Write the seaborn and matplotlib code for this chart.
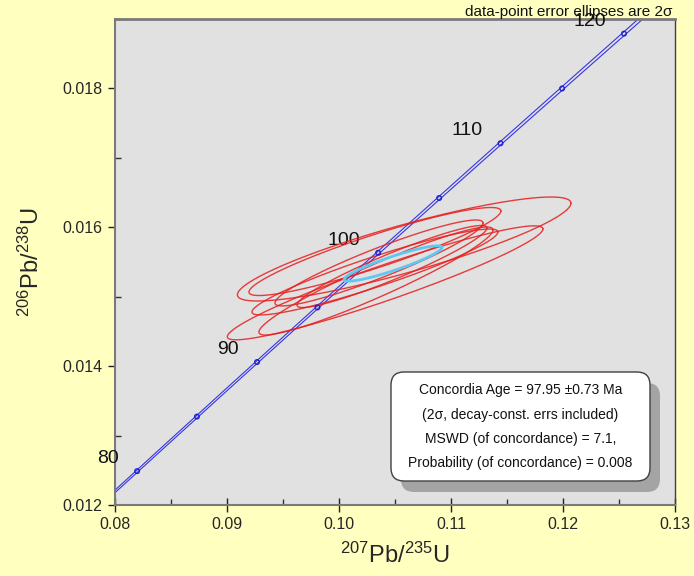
import numpy as np
import pandas as pd
import matplotlib
matplotlib.use("Agg")
import matplotlib.pyplot as plt
import seaborn as sns
from matplotlib.patches import FancyBboxPatch
from matplotlib.ticker import MultipleLocator, FormatStrFormatter

# decay constants (1/yr) and relative 2-sigma error used for the concordia band
lambda238 = 1.55125e-10
lambda235 = 9.8485e-10
lambda235_err = 0.0015

# ages (Ma) marked on concordia, and the ones that get a label
ages_marked = [80, 85, 90, 95, 100, 105, 110, 115, 120, 125]
ages_labelled = [80, 90, 100, 110, 120]

# data-point ellipses: 207Pb/235U, 2s, 206Pb/238U, 2s, error correlation
ell_x = [0.10582, 0.10412, 0.10321, 0.10321, 0.10330, 0.10357, 0.10473]
ell_sx = [0.01489, 0.01409, 0.01125, 0.01098, 0.01045, 0.00929, 0.00848]
ell_y = [0.015687, 0.015200, 0.015651, 0.015356, 0.015226, 0.015486, 0.015435]
ell_sy = [0.000749, 0.000821, 0.000634, 0.000619, 0.000778, 0.000619, 0.000591]
ell_rho = [0.88, 0.945, 0.92, 0.93, 0.945, 0.93, 0.94]

# concordia age ellipse
mean_x, mean_sx = 0.10482, 0.004375
mean_y, mean_sy = 0.015478, 0.000255
mean_rho = 0.91

result_lines = [
    "Concordia Age = 97.95 \u00b10.73 Ma",
    "(2\u03c3, decay-const. errs included)",
    "MSWD (of concordance) = 7.1,",
    "Probability (of concordance) = 0.008",
]


def ellipse_points(cx, sx, cy, sy, rho, n=200):
    t = np.linspace(0, 2 * np.pi, n)
    x = cx + sx * np.cos(t)
    y = cy + sy * (rho * np.cos(t) + np.sqrt(1 - rho ** 2) * np.sin(t))
    return x, y


def concordia(age_ma, k=0.0):
    t = np.asarray(age_ma) * 1e6
    return np.exp(lambda235 * (1 + k) * t) - 1, np.exp(lambda238 * t) - 1


sns.set_style("ticks")
plt.rcParams['font.family'] = ['Liberation Sans', 'DejaVu Sans']
plt.rcParams['mathtext.default'] = 'regular'

fig = plt.figure(figsize=(6.94, 5.76), dpi=100, facecolor='#ffffc0')
ax = fig.add_axes([0.1657, 0.1233, 0.8069, 0.8437])
ax.set_facecolor('#e1e1e1')

# concordia band
t_curve = np.linspace(70, 135, 500)
for k in (-lambda235_err, lambda235_err):
    cx, cy = concordia(t_curve, k)
    curve_df = pd.DataFrame({'x': cx, 'y': cy})
    sns.lineplot(data=curve_df, x='x', y='y', sort=False, estimator=None,
                 color='#3535e6', lw=0.8, ax=ax)

# age markers
mx, my = concordia(ages_marked)
sns.scatterplot(x=mx, y=my, marker='o', s=11, facecolor='none',
                edgecolor='#2020d0', linewidth=1.0, ax=ax, zorder=4)

for age in ages_labelled:
    ax_x, ax_y = concordia(age)
    ax.annotate(str(age), (ax_x, ax_y), xytext=(-13, 9), textcoords='offset points',
                ha='right', va='center', fontsize=14, color='#111111',
                annotation_clip=False)

# data ellipses
for cx, sx, cy, sy, r in zip(ell_x, ell_sx, ell_y, ell_sy, ell_rho):
    ex, ey = ellipse_points(cx, sx, cy, sy, r)
    ax.plot(ex, ey, color='#e61e1e', lw=1.0, alpha=0.85, zorder=3)

ex, ey = ellipse_points(mean_x, mean_sx, mean_y, mean_sy, mean_rho)
ax.plot(ex, ey, color='#5ec8f0', lw=2.0, zorder=5)

ax.set_xlim(0.08, 0.13)
ax.set_ylim(0.012, 0.019)
ax.xaxis.set_major_locator(MultipleLocator(0.01))
ax.xaxis.set_minor_locator(MultipleLocator(0.005))
ax.yaxis.set_major_locator(MultipleLocator(0.002))
ax.yaxis.set_minor_locator(MultipleLocator(0.001))
ax.xaxis.set_major_formatter(FormatStrFormatter('%.2f'))
ax.yaxis.set_major_formatter(FormatStrFormatter('%.3f'))

ax.tick_params(axis='x', which='major', direction='inout', length=10, width=1,
               color='#202020', labelsize=11.5, pad=4)
ax.tick_params(axis='y', which='major', direction='out', length=5, width=1,
               color='#202020', labelsize=11.5, pad=4)
ax.tick_params(which='minor', direction='in', length=4, width=1, color='#303030')

for side in ['left', 'right', 'top', 'bottom']:
    ax.spines[side].set_color('#7a7a7a')
    ax.spines[side].set_linewidth(1.5)
ax.spines['right'].set_color('#404040')
ax.spines['right'].set_linewidth(1.0)
ax.spines['top'].set_linewidth(2.0)

ax.set_xlabel('$^{207}$Pb/$^{235}$U', fontsize=17)
ax.set_ylabel('$^{206}$Pb/$^{238}$U', fontsize=17)
ax.xaxis.set_label_coords(0.5, -0.078)
ax.yaxis.set_label_coords(-0.127, 0.5)

fig.text(672 / 694, 1 - 12 / 576, 'data-point error ellipses are 2\u03c3',
         ha='right', va='center', fontsize=11, color='#111111')

# result box with shadow (inches from bottom-left of the figure)
shadow = FancyBboxPatch((4.01, 0.84), 2.59, 1.09, boxstyle='round,pad=0,rounding_size=0.13',
                        transform=fig.dpi_scale_trans, facecolor='#a4a4a4',
                        edgecolor='none', zorder=10)
box = FancyBboxPatch((3.91, 0.95), 2.59, 1.09, boxstyle='round,pad=0,rounding_size=0.13',
                     transform=fig.dpi_scale_trans, facecolor='white',
                     edgecolor='#404040', lw=1.0, zorder=11)
fig.patches.extend([shadow, box])
for i, line in enumerate(result_lines):
    fig.text(5.205, 1.86 - i * 0.245, line, transform=fig.dpi_scale_trans,
             ha='center', va='center', fontsize=10, color='#111111', zorder=12)

fig.savefig('out.png', dpi=100, facecolor=fig.get_facecolor())
